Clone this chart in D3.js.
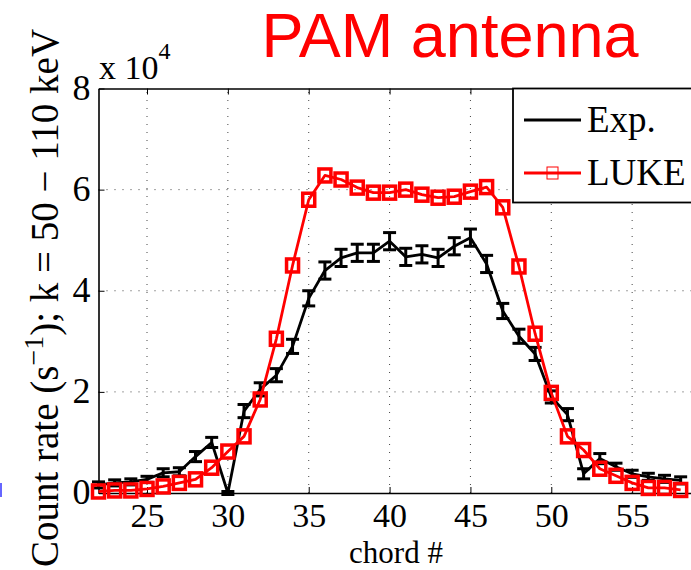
<!DOCTYPE html>
<html><head><meta charset="utf-8">
<script src="https://cdn.jsdelivr.net/npm/d3@7"></script>
<style>body{margin:0;background:#fff}svg{display:block}</style>
</head><body>
<svg id="c" width="691" height="570"></svg>
<script>
const chords = [22,23,24,25,26,27,28,29,30,31,32,33,34,35,36,37,38,39,40,41,42,43,44,45,46,47,48,49,50,51,52,53,54,55,56,57,58];
// values in units of 1e4 counts/s
const expValues = [0.16,0.2,0.22,0.27,0.4,0.42,0.72,1.0,0.0,1.62,2.05,2.33,2.9,3.85,4.4,4.65,4.75,4.75,4.98,4.67,4.72,4.65,4.88,5.05,4.53,3.6,3.1,2.75,1.9,1.55,0.38,0.68,0.52,0.38,0.32,0.28,0.25];
const expErrors = [0.06,0.06,0.06,0.06,0.08,0.08,0.1,0.1,0.03,0.13,0.13,0.13,0.14,0.15,0.17,0.17,0.17,0.17,0.17,0.17,0.17,0.17,0.17,0.17,0.17,0.15,0.14,0.13,0.12,0.12,0.1,0.1,0.07,0.07,0.07,0.07,0.07];
const lukeValues = [0.03,0.05,0.05,0.08,0.13,0.2,0.27,0.5,0.82,1.12,1.85,3.05,4.5,5.8,6.28,6.2,6.04,5.94,5.94,6.0,5.9,5.84,5.86,5.96,6.05,5.65,4.48,3.15,1.98,1.12,0.85,0.48,0.34,0.2,0.1,0.1,0.06];
const xTicks = [25,30,35,40,45,50,55];
const yTicks = [0,2,4,6,8];
const seriesNames = ["Exp.","LUKE"];
const titleText = "PAM antenna";

const svg = d3.select("#c");
const serif = "'Liberation Serif','Times New Roman',serif";
const x = d3.scaleLinear().domain([22,60]).range([98.5, 713]);
const y = d3.scaleLinear().domain([0,8]).range([493, 88.5]);

svg.append("rect").attr("width",691).attr("height",570).attr("fill","#fff");

// grid
const grid = svg.append("g").attr("stroke","#444").attr("stroke-width",1).attr("stroke-dasharray","1,7");
xTicks.forEach(t=>grid.append("line").attr("x1",x(t)).attr("x2",x(t)).attr("y1",y(0)).attr("y2",y(8)));
yTicks.slice(1,-1).forEach(t=>grid.append("line").attr("x1",x(22)).attr("x2",x(60)).attr("y1",y(t)).attr("y2",y(t)));

// axes
const xAxis = d3.axisBottom(x).tickValues(xTicks).tickSizeInner(-6).tickSizeOuter(0).tickPadding(10);
const gx = svg.append("g").attr("transform",`translate(0,${y(0)})`).call(xAxis);
gx.select(".domain").attr("stroke","#000").attr("stroke-width",1.6);
gx.selectAll(".tick line").attr("stroke","#000").attr("stroke-width",1);
gx.selectAll(".tick text").attr("font-family",serif).attr("font-size",34).attr("fill","#000").attr("dy",null).attr("y",34);

const gxTop = svg.append("g").attr("transform",`translate(0,${y(8)})`).call(d3.axisTop(x).tickValues(xTicks).tickSizeInner(-6).tickSizeOuter(0).tickFormat(""));
gxTop.select(".domain").attr("stroke","#000").attr("stroke-width",1.6);

const yAxis = d3.axisLeft(y).tickValues(yTicks).tickSizeInner(-6).tickSizeOuter(0).tickPadding(8);
const gy = svg.append("g").attr("transform",`translate(${x(22)},0)`).call(yAxis);
gy.select(".domain").attr("stroke","#000").attr("stroke-width",1.6);
gy.selectAll(".tick text").attr("font-family",serif).attr("font-size",36).attr("fill","#000").attr("dy","0.3em");

// exponent label
const ex = svg.append("text").attr("x",99).attr("y",79).attr("font-family",serif).attr("font-size",34).attr("fill","#000");
ex.append("tspan").text("x 10");
ex.append("tspan").attr("dy",-20).attr("font-size",24).text("4");

// axis labels
svg.append("text").attr("x",396).attr("y",563).attr("text-anchor","middle").attr("font-family",serif).attr("font-size",31).attr("fill","#000").text("chord #");
const yl = svg.append("text").attr("transform","translate(58,298) rotate(-90)").attr("text-anchor","middle").attr("font-family",serif).attr("font-size",39).attr("fill","#000");
yl.append("tspan").text("Count rate (s");
yl.append("tspan").attr("dy",-15).attr("font-size",28).text("\u22121");
yl.append("tspan").attr("dy",15).text("); k = 50 \u2212 110 keV");

// title
svg.append("text").attr("x",450).attr("y",57).attr("text-anchor","middle").attr("font-family","'Liberation Sans',Arial,sans-serif").attr("font-size",63).attr("fill","#ff0000").text(titleText);

// data
const expData = chords.map((c,i)=>({c, v:expValues[i], e:expErrors[i]}));
const lukeData = chords.map((c,i)=>({c, v:lukeValues[i]}));
const line = d3.line().x(d=>x(d.c)).y(d=>y(d.v));

svg.append("path").datum(expData).attr("d",line).attr("fill","none").attr("stroke","#000").attr("stroke-width",2.8).attr("stroke-linejoin","round");
const eb = svg.append("g").attr("stroke","#000").attr("stroke-width",3);
expData.forEach(d=>{
  eb.append("line").attr("x1",x(d.c)).attr("x2",x(d.c)).attr("y1",y(d.v-d.e)).attr("y2",y(d.v+d.e));
  eb.append("line").attr("x1",x(d.c)-6.5).attr("x2",x(d.c)+6.5).attr("y1",y(d.v-d.e)).attr("y2",y(d.v-d.e));
  eb.append("line").attr("x1",x(d.c)-6.5).attr("x2",x(d.c)+6.5).attr("y1",y(d.v+d.e)).attr("y2",y(d.v+d.e));
});

svg.append("path").datum(lukeData).attr("d",line).attr("fill","none").attr("stroke","#ff0000").attr("stroke-width",2.8).attr("stroke-linejoin","round");
svg.append("g").selectAll("rect").data(lukeData).join("rect")
  .attr("x",d=>x(d.c)-6).attr("y",d=>y(d.v)-6.5).attr("width",12).attr("height",13)
  .attr("fill","none").attr("stroke","#ff0000").attr("stroke-width",3.5);

// legend
const lg = svg.append("g");
lg.append("rect").attr("x",513).attr("y",88.5).attr("width",200).attr("height",114).attr("fill","#fff").attr("stroke","#000").attr("stroke-width",1.8);
lg.append("line").attr("x1",524).attr("x2",581).attr("y1",120).attr("y2",120).attr("stroke","#000").attr("stroke-width",2.8);
lg.append("text").attr("x",587).attr("y",132).attr("font-family",serif).attr("font-size",37).attr("fill","#000").text(seriesNames[0]);
lg.append("line").attr("x1",524).attr("x2",581).attr("y1",173).attr("y2",173).attr("stroke","#ff0000").attr("stroke-width",2.8);
lg.append("rect").attr("x",547).attr("y",167).attr("width",11).attr("height",12).attr("fill","none").attr("stroke","#ff0000").attr("stroke-width",1);
lg.append("text").attr("x",587).attr("y",185).attr("font-family",serif).attr("font-size",37).attr("fill","#000").text(seriesNames[1]);

// small blue edge mark seen at the left border
svg.append("rect").attr("x",0).attr("y",483).attr("width",2).attr("height",14).attr("fill","#6666ff");
</script>
</body></html>
